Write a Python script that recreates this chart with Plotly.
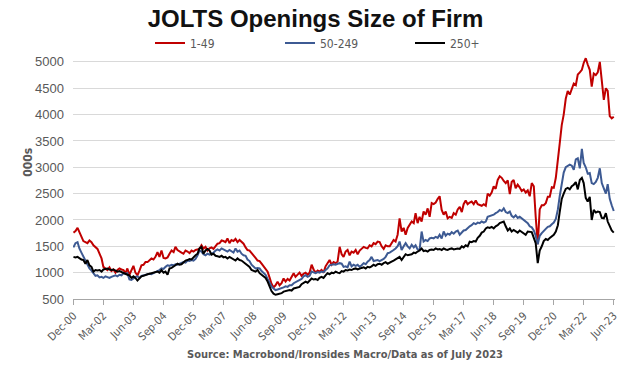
import pandas as pd
import plotly.graph_objects as go

# Monthly JOLTS job openings by firm size (thousands), Dec-2000 .. Jun-2023
RED = [
    1760,
    1790, 1850, 1760, 1680, 1600, 1580, 1560, 1610, 1580, 1520, 1480, 1450,
    1360, 1270, 1110, 1080, 1050, 1100, 1030, 1060, 1000, 1050, 1080, 1060,
    1050, 990, 1080, 960, 1050, 1130, 1000, 950, 1040, 1140, 1150, 1200,
    1200, 1230, 1270, 1250, 1300, 1390, 1300, 1420, 1280, 1270, 1290, 1360,
    1420, 1390, 1490, 1430, 1400, 1380, 1360, 1420, 1400, 1370, 1420, 1400,
    1430, 1440, 1450, 1520, 1460, 1490, 1420, 1460, 1480, 1450, 1500, 1550,
    1560, 1610, 1600, 1580, 1650, 1560, 1620, 1600, 1640, 1580, 1620, 1590,
    1550, 1480, 1430, 1420, 1380, 1340, 1280, 1230, 1220, 1170, 1120, 1080,
    1020, 900, 790, 720, 760, 830, 760, 800, 890, 830, 880, 850,
    930, 990, 920, 960, 1000, 940, 980, 1000, 960, 1000, 1150, 1060,
    1000, 1040, 1020, 1050, 1000, 1120, 1180, 1240, 1150, 1200, 1180, 1210,
    1490, 1350, 1300, 1400, 1430, 1330, 1400, 1380, 1430, 1350, 1420, 1460,
    1490, 1470, 1460, 1520, 1500, 1560, 1540, 1590, 1580, 1500, 1450, 1520,
    1500, 1500, 1560, 1620, 1590, 1720, 2030, 1780, 1850, 1720, 1850, 1910,
    1970, 1940, 2130, 1940, 2060, 1970, 2160, 2100, 2220, 2060, 2320, 2300,
    2330, 2400, 2450, 2190, 2100, 2160, 2030, 2060, 2040, 2130, 2100, 2200,
    2250, 2150, 2300, 2370, 2300, 2330, 2350, 2300, 2370, 2300, 2290, 2270,
    2300, 2270, 2500, 2460, 2520, 2640, 2590, 2760, 2830, 2800, 2740, 2700,
    2750, 2490, 2720, 2760, 2600, 2670, 2620, 2550, 2580, 2520, 2560, 2450,
    2700, 2640, 2060, 1540, 2200, 2280, 2280, 2320, 2440, 2440, 2620, 2610,
    2800, 3100, 3450, 3800, 4000, 4300, 4450, 4380, 4500, 4590, 4560, 4760,
    4800, 4850, 4980, 5070, 4950, 4850, 4530, 4780, 4750, 4800, 5000, 4700,
    4280, 4500, 4450, 3970, 3930, 3960,
]

BLUE = [
    1480,
    1560, 1580, 1460, 1380, 1300, 1250, 1150, 1080, 1040, 990, 940, 950,
    910, 920, 900, 930, 910, 900, 920, 940, 950, 930, 960, 950,
    990, 980, 990, 870, 860, 890, 920, 930, 900, 940, 950, 960,
    960, 980, 970, 990, 1000, 1020, 1050, 1080, 1070, 1110, 1140, 1130,
    1150, 1140, 1160, 1150, 1170, 1180, 1200, 1190, 1230, 1220, 1240, 1230,
    1260, 1330, 1420, 1400, 1350, 1330, 1360, 1340, 1360, 1380, 1420, 1440,
    1420, 1460, 1440, 1420, 1400, 1430, 1410, 1380, 1460, 1400, 1420, 1360,
    1330, 1320, 1250, 1220, 1150, 1120, 1080, 1090, 1080, 1030, 1000, 960,
    880, 800, 740, 700, 670, 680, 690, 700, 720, 740, 730, 760,
    760, 800, 820, 840, 860, 880, 930, 950, 920, 940, 1020, 1000,
    990, 1010, 1000, 1020, 1010, 1050, 1080, 1140, 1150, 1160, 1150, 1170,
    1180, 1170, 1110, 1120, 1100, 1210, 1120, 1150, 1130, 1150, 1110, 1140,
    1180, 1160, 1210, 1240, 1300, 1220, 1230, 1240, 1220, 1240, 1260, 1300,
    1370, 1380, 1400, 1430, 1460, 1500, 1590, 1430, 1500, 1560, 1500, 1460,
    1530, 1480, 1520, 1440, 1430, 1780, 1590, 1620, 1600, 1650, 1660, 1650,
    1680, 1660, 1720, 1650, 1780, 1700, 1740, 1720, 1770, 1740, 1780, 1800,
    1720, 1760, 1800, 1810, 1850, 1880, 1900, 1940, 1920, 1950, 1940, 1970,
    1950, 1970, 2060, 2070, 2090, 2100, 2130, 2150, 2190, 2170, 2220, 2150,
    2130, 2160, 2080, 2050, 2090, 2040, 2060, 2030, 2000, 1980, 1940, 1880,
    1860, 1800, 1700, 1540, 1700, 1750, 1800, 1830, 1870, 1880, 1920, 1950,
    2020, 2200, 2450, 2720, 2900, 3000, 3020, 3050, 3030, 2950, 3150, 3170,
    2980, 3350, 3080, 3000, 2880, 2890, 2700, 2680, 2720, 2800, 2980, 2700,
    2600, 2500, 2680, 2400, 2280, 2170,
]

BLACK = [
    1300,
    1290, 1300, 1270, 1250, 1240, 1170, 1240, 1140, 1110, 1020, 1050, 1040,
    1050, 1020, 1060, 1070, 1080, 1060, 1050, 1060, 1040, 1020, 1030, 1010,
    990, 980, 960, 950, 900, 930, 900, 850, 900, 930, 940, 960,
    970, 980, 990, 1000, 1010, 1020, 1000, 1050, 1000, 1020, 960, 1080,
    1090, 1110, 1140, 1170, 1150, 1160, 1200, 1230, 1240, 1260, 1250, 1300,
    1330, 1360, 1460, 1490, 1360, 1420, 1450, 1420, 1340, 1360, 1320, 1310,
    1300, 1320, 1290, 1300, 1270, 1300, 1280, 1260, 1230, 1270, 1240, 1230,
    1200, 1170, 1140, 1110, 1050, 1030, 1020, 1050, 990, 960, 930, 900,
    830, 740, 650, 600, 580, 590, 600, 610, 640, 650, 660, 670,
    660, 700, 710, 720, 730, 780, 800, 830, 810, 860, 890, 870,
    880, 860, 900, 920, 900, 950, 990, 970, 1000, 990, 1020, 1000,
    990, 1030, 1020, 1050, 1040, 1060, 1050, 1070, 1080, 1060, 1080, 1090,
    1100, 1080, 1110, 1100, 1120, 1150, 1130, 1160, 1170, 1150, 1180, 1200,
    1170, 1200, 1210, 1230, 1250, 1270, 1300, 1240, 1310, 1350, 1330, 1340,
    1350, 1380, 1370, 1400, 1420, 1460, 1410, 1420, 1400, 1430, 1440, 1430,
    1460, 1440, 1450, 1430, 1460, 1440, 1430, 1450, 1460, 1440, 1450, 1460,
    1450, 1500, 1480, 1520, 1500, 1590, 1580, 1600, 1590, 1660, 1700, 1760,
    1780, 1840, 1860, 1850, 1870, 1840, 1880, 1900, 1940, 1960, 1970, 1880,
    1800, 1840, 1780, 1810, 1790, 1760, 1800, 1770, 1750, 1720, 1780, 1770,
    1770, 1660, 1560, 1180, 1420, 1500, 1600, 1640, 1620, 1660, 1690, 1720,
    1780, 1900, 2150, 2400, 2500, 2590, 2610, 2580, 2640, 2670, 2720, 2580,
    2760, 2800, 2700, 2420, 2350, 2440, 2000, 2190, 2140, 2160, 2150, 2040,
    2030, 2130, 1970, 1880, 1800, 1760,
]

SERIES_NAMES = ["1-49", "50-249", "250+"]
TICK_LABELS = ["Dec-00", "Mar-02", "Jun-03", "Sep-04", "Dec-05", "Mar-07", "Jun-08",
               "Sep-09", "Dec-10", "Mar-12", "Jun-13", "Sep-14", "Dec-15", "Mar-17",
               "Jun-18", "Sep-19", "Dec-20", "Mar-22", "Jun-23"]
Y_TICKS = [500, 1000, 1500, 2000, 2500, 3000, 3500, 4000, 4500, 5000]

dates = pd.date_range("2000-12-01", periods=len(RED), freq="MS")
tick_dates = [pd.to_datetime(t, format="%b-%y") for t in TICK_LABELS]

COLORS = ["#C00000", "#3D5A93", "#000000"]
GREY = "#595959"
NARROW = "Liberation Sans Narrow, Arial Narrow, DejaVu Sans Condensed, sans-serif"

fig = go.Figure()
for name, vals, col in zip(SERIES_NAMES, [RED, BLUE, BLACK], COLORS):
    fig.add_trace(go.Scatter(x=dates, y=vals, mode="lines", name=name,
                             line=dict(color=col, width=2)))

fig.update_layout(
    width=631, height=365,
    margin=dict(l=73, r=16, t=54, b=66, autoexpand=False),
    paper_bgcolor="white", plot_bgcolor="white",
    title=dict(text="<b>JOLTS Openings Size of Firm</b>", x=0.5, xanchor="center",
               y=0.95, yanchor="middle",
               font=dict(family="Liberation Sans, Arial, sans-serif", size=24, color="#111111")),
    legend=dict(orientation="h", xref="container", x=150 / 631, xanchor="left",
                yref="container", y=1 - 43 / 365, yanchor="middle",
                font=dict(family=NARROW, size=12, color=GREY),
                entrywidth=85, entrywidthmode="pixels", bgcolor="rgba(0,0,0,0)"),
    showlegend=True,
)

fig.update_xaxes(
    type="date", range=["2000-11-24", "2023-06-20"], automargin=False,
    tickmode="array", tickvals=tick_dates, ticktext=TICK_LABELS, tickangle=-45,
    tickfont=dict(family=NARROW, size=11, color=GREY),
    showgrid=False, showline=True, linecolor="#A6A6A6", linewidth=1,
    ticks="outside", ticklen=5, tickcolor="#A6A6A6", zeroline=False,
)
fig.update_yaxes(
    range=[500, 5150], tickmode="array", tickvals=Y_TICKS, automargin=False,
    tickfont=dict(family="Liberation Sans, Arial, sans-serif", size=13, color=GREY),
    showgrid=True, gridcolor="#D9D9D9", gridwidth=1, zeroline=False,
    showline=False, ticks="", ticklabelstandoff=8,
)

fig.add_annotation(text="<b>000s</b>", xref="paper", yref="paper", x=-0.083, y=0.556,
                   xanchor="center", yanchor="middle",
                   textangle=-90, showarrow=False,
                   font=dict(family=NARROW, size=12, color=GREY))
fig.add_annotation(text="<b>Source: Macrobond/Ironsides Macro/Data as of July 2023</b>",
                   xref="paper", yref="paper", x=0.502, y=-0.225, showarrow=False,
                   xanchor="center", yanchor="middle",
                   font=dict(family=NARROW, size=11, color=GREY))

fig.write_html("out.html", config={"displayModeBar": False},
               post_script="document.body.style.margin='0';")
